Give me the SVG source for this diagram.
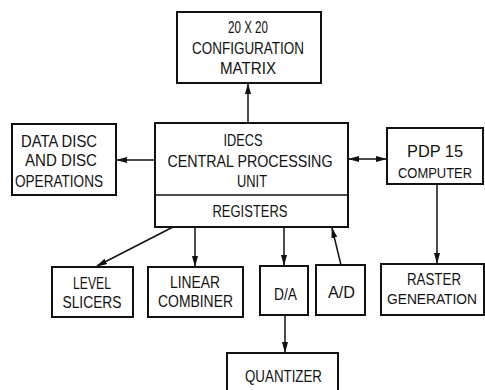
<svg xmlns="http://www.w3.org/2000/svg" width="485" height="390" viewBox="0 0 485 390">
  <style>
    .box { fill: #fff; stroke: #111; stroke-width: 2; }
    .wire { fill: none; stroke: #111; stroke-width: 1.5; }
    text { font-family: "Liberation Sans", Arial, sans-serif; font-size: 16.5px; fill: #111; text-anchor: middle; }
    text.tight { font-size: 15px; }
  </style>
  <defs>
    <marker id="head" markerUnits="userSpaceOnUse" markerWidth="11" markerHeight="6" refX="10" refY="3" orient="auto-start-reverse">
      <path d="M0,0 L11,3 L0,6 Z" fill="#111"/>
    </marker>
  </defs>

  <rect width="485" height="390" fill="#fff"/>

  <!-- connectors -->
  <g id="connectors">
    <line class="wire" x1="248" y1="123" x2="248" y2="84" marker-end="url(#head)"/>
    <line class="wire" x1="155" y1="160" x2="117" y2="160" marker-end="url(#head)"/>
    <line class="wire" x1="349" y1="159" x2="386" y2="159" marker-start="url(#head)" marker-end="url(#head)"/>
    <line class="wire" x1="437" y1="184" x2="437" y2="263" marker-end="url(#head)"/>
    <line class="wire" x1="173" y1="227" x2="97" y2="266" marker-end="url(#head)"/>
    <line class="wire" x1="195" y1="227" x2="195" y2="266" marker-end="url(#head)"/>
    <line class="wire" x1="284" y1="227" x2="284" y2="265" marker-end="url(#head)"/>
    <line class="wire" x1="341" y1="265" x2="332" y2="228" marker-end="url(#head)"/>
    <line class="wire" x1="285" y1="315" x2="285" y2="352" marker-end="url(#head)"/>
  </g>

  <!-- configuration matrix -->
  <g id="config-matrix">
    <rect class="box" x="177" y="12" width="144" height="71"/>
    <text x="248" y="33" textLength="40" lengthAdjust="spacingAndGlyphs">20 X 20</text>
    <text x="248" y="54" textLength="112" lengthAdjust="spacingAndGlyphs">CONFIGURATION</text>
    <text x="248" y="74" textLength="56" lengthAdjust="spacingAndGlyphs">MATRIX</text>
  </g>

  <!-- central processing unit with register section -->
  <g id="cpu">
    <rect class="box" x="155" y="123" width="193" height="104"/>
    <line class="wire" x1="155" y1="195" x2="348" y2="195" stroke-width="2"/>
    <text x="243" y="145.5" textLength="39" lengthAdjust="spacingAndGlyphs">IDECS</text>
    <text x="250" y="166.5" textLength="165" lengthAdjust="spacingAndGlyphs">CENTRAL PROCESSING</text>
    <text x="252" y="186.5" textLength="30" lengthAdjust="spacingAndGlyphs">UNIT</text>
    <text x="250" y="217" textLength="75" lengthAdjust="spacingAndGlyphs">REGISTERS</text>
  </g>

  <!-- data disc -->
  <g id="data-disc">
    <rect class="box" x="12" y="124" width="104" height="71"/>
    <text x="59" y="147" textLength="76" lengthAdjust="spacingAndGlyphs">DATA DISC</text>
    <text x="61" y="166" textLength="72" lengthAdjust="spacingAndGlyphs">AND DISC</text>
    <text x="59" y="187" textLength="88" lengthAdjust="spacingAndGlyphs">OPERATIONS</text>
  </g>

  <!-- PDP 15 computer -->
  <g id="pdp15">
    <rect class="box" x="387" y="128" width="96" height="56"/>
    <text x="435" y="157" textLength="56" lengthAdjust="spacingAndGlyphs">PDP 15</text>
    <text class="tight" x="435" y="177.5" textLength="74" lengthAdjust="spacingAndGlyphs">COMPUTER</text>
  </g>

  <!-- raster generation -->
  <g id="raster">
    <rect class="box" x="381" y="264" width="103" height="51"/>
    <text x="434" y="285" textLength="54" lengthAdjust="spacingAndGlyphs">RASTER</text>
    <text class="tight" x="432" y="303.5" textLength="90" lengthAdjust="spacingAndGlyphs">GENERATION</text>
  </g>

  <!-- level slicers -->
  <g id="level-slicers">
    <rect class="box" x="52" y="267" width="81" height="50"/>
    <text x="92" y="289" textLength="38" lengthAdjust="spacingAndGlyphs">LEVEL</text>
    <text x="92" y="307.5" textLength="59" lengthAdjust="spacingAndGlyphs">SLICERS</text>
  </g>

  <!-- linear combiner -->
  <g id="linear-combiner">
    <rect class="box" x="148" y="267" width="95" height="50"/>
    <text x="195" y="287.5" textLength="50" lengthAdjust="spacingAndGlyphs">LINEAR</text>
    <text x="195.5" y="306.5" textLength="75" lengthAdjust="spacingAndGlyphs">COMBINER</text>
  </g>

  <!-- D/A converter -->
  <g id="d-a">
    <rect class="box" x="260" y="266" width="48" height="49"/>
    <text x="285.5" y="300" textLength="23" lengthAdjust="spacingAndGlyphs">D/A</text>
  </g>

  <!-- A/D converter -->
  <g id="a-d">
    <rect class="box" x="316" y="265" width="49" height="50"/>
    <text x="341.5" y="298" textLength="27" lengthAdjust="spacingAndGlyphs">A/D</text>
  </g>

  <!-- quantizer -->
  <g id="quantizer">
    <rect class="box" x="227" y="353" width="111" height="50"/>
    <text x="283.5" y="382" textLength="77" lengthAdjust="spacingAndGlyphs">QUANTIZER</text>
  </g>
</svg>
